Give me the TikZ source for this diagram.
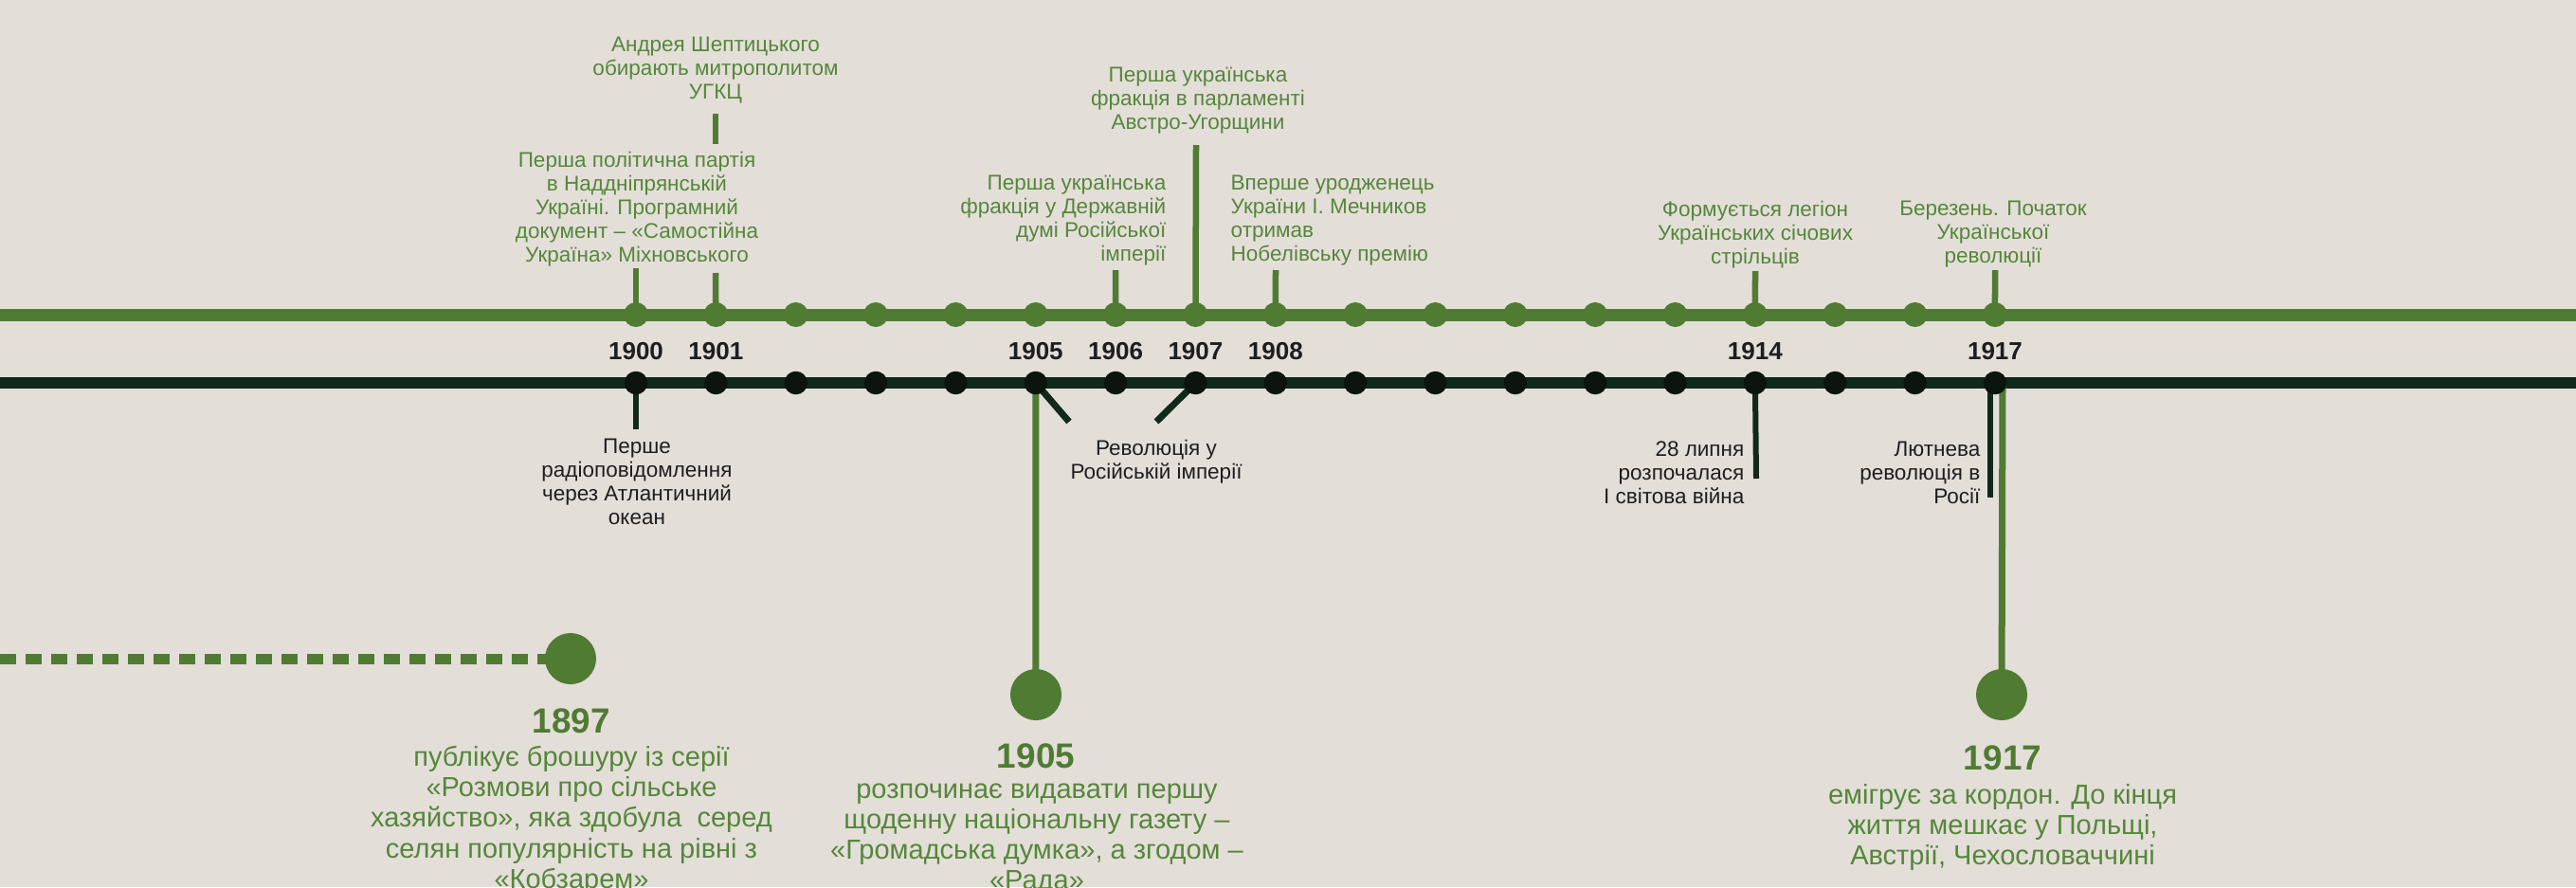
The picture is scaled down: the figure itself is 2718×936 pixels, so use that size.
\documentclass[tikz,border=0pt]{standalone}
\usepackage{fontspec}
\setmainfont{Liberation Sans}
\definecolor{bg}{HTML}{E4DED9}
\definecolor{grn}{HTML}{4F7B32}
\definecolor{grntxt}{HTML}{55873A}
\definecolor{dk}{HTML}{10291A}
\definecolor{dkdot}{HTML}{0B140D}
\definecolor{dktxt}{HTML}{1E1E1E}
\pgfdeclarelayer{back}
\pgfdeclarelayer{mid}
\pgfsetlayers{back,mid,main}
\begin{document}
\begin{tikzpicture}[x=0.01cm,y=-0.01cm,
  gdot/.style={circle,fill=grn,inner sep=0pt,minimum size=0.26cm},
  kdot/.style={circle,fill=dkdot,inner sep=0pt,minimum size=0.245cm},
  bigdot/.style={circle,fill=grn,inner sep=0pt,minimum size=0.54cm},
  gstem/.style={draw=grn,line width=0.065cm},
  kstem/.style={draw=dk,line width=0.06cm},
  lbl/.style={font=\fontsize{6.4}{7.11}\selectfont,inner sep=0pt,execute at begin node={\vphantom{Д}}},
  gtxt/.style={lbl,text=grntxt,align=center,anchor=north},
  ktxt/.style={lbl,text=dktxt,align=center,anchor=north},
  yr/.style={font=\bfseries\fontsize{7.4}{8}\selectfont,text=dktxt,inner sep=0pt},
  bigyr/.style={font=\bfseries\fontsize{10.5}{11}\selectfont,text=grn,inner sep=0pt,anchor=north},
  bigtxt/.style={font=\fontsize{8.25}{9.1}\selectfont,text=grntxt,inner sep=0pt,align=center,anchor=north,execute at begin node={\vphantom{Д}}},
]
\begin{pgfonlayer}{back}
\fill[bg] (0,0) rectangle (2718,936);
\end{pgfonlayer}
\useasboundingbox (0,0) rectangle (2718,936);

% axis ends
\coordinate (gL) at (0,332); \coordinate (gR) at (2718,332);
\coordinate (kL) at (0,404); \coordinate (kR) at (2718,404);

% dots
\foreach \i in {0,...,17}{
  \node[gdot] (g\i) at ({671+84.35*\i},332) {};
  \node[kdot] (k\i) at ({671+84.35*\i},404) {};
}

% big circles
\node[bigdot] (b1897) at (602,695) {};
\node[bigdot] (b1905) at (1093,733) {};
\node[bigdot] (b1917) at (2112,733) {};
\coordinate (dL) at (0,695);
\coordinate (k17g) at (2113,404);

% stem ends
\coordinate (s1900) at (671,283);
\coordinate (s1901) at (755,288);
\coordinate (sA1) at (755,120); \coordinate (sA2) at (755,152);
\coordinate (s1906) at (1177,285);
\coordinate (s1907) at (1262,153);
\coordinate (s1908) at (1346,285);
\coordinate (s1914) at (1852,286);
\coordinate (s1917) at (2105,285);
\coordinate (d1900) at (671,453);
\coordinate (d1905) at (1128,445);
\coordinate (d1907) at (1220,445);
\coordinate (d1914) at (1853,505);
\coordinate (d1917a) at (2100,410);
\coordinate (d1917) at (2100,525);

\begin{pgfonlayer}{mid}
\draw[grn,line width=0.13cm] (gL) -- (gR);
\draw[dk,line width=0.12cm] (kL) -- (kR);
\draw[gstem] (g0.center) -- (s1900);
\draw[gstem] (g1.center) -- (s1901);
\draw[gstem] (sA1) -- (sA2);
\draw[gstem] (g6.center) -- (s1906);
\draw[gstem] (g7.center) -- (s1907);
\draw[gstem] (g8.center) -- (s1908);
\draw[gstem] (g14.center) -- (s1914);
\draw[gstem] (g17.center) -- (s1917);
\draw[kstem] (k0.center) -- (d1900);
\draw[kstem,line width=0.07cm] (k5.center) -- (d1905);
\draw[kstem,line width=0.07cm] (k7.center) -- (d1907);
\draw[kstem] (k14.center) -- (d1914);
\draw[kstem] (d1917a) -- (d1917);
\draw[gstem,line width=0.07cm] (k5.center) -- (b1905.center);
\draw[gstem,line width=0.07cm] (k17g) -- (b1917.center);
\draw[grn,line width=0.11cm,dash pattern=on 0.17cm off 0.10cm] (dL) -- (b1897.center);
\end{pgfonlayer}

% axis years
\foreach \i/\y in {0/1900,1/1901,5/1905,6/1906,7/1907,8/1908,14/1914,17/1917}{
  \node[yr] (y\y) at ({671+84.35*\i},371) {\y};
}

% upper labels
\node[gtxt] (tA) at (755,38) {Андрея Шептицького\\обирають митрополитом\\УГКЦ};
\node[gtxt] (tB) at (672,159) {Перша політична партія\\в Наддніпрянській\\Україні. Програмний\\документ – «Самостійна\\Україна» Міхновського};
\node[gtxt,align=right,anchor=north east] (tC) at (1231,184) {Перша українська\\фракція у Державній\\думі Російської\\імперії};
\node[gtxt] (tD) at (1264,70) {Перша українська\\фракція в парламенті\\Австро-Угорщини};
\node[gtxt,align=left,anchor=north west] (tE) at (1298,184) {Вперше уродженець\\України І. Мечников\\отримав\\Нобелівську премію};
\node[gtxt] (tF) at (1852,211) {Формується легіон\\Українських січових\\стрільців};
\node[gtxt] (tG) at (2103,211) {Березень. Початок\\Української\\революції};

% lower labels
\node[ktxt] (tH) at (672,462) {Перше\\радіоповідомлення\\через Атлантичний\\океан};
\node[ktxt] (tI) at (1220,463) {Революція у\\Російській імперії};
\node[ktxt,align=right,anchor=north east] (tJ) at (1841,465) {28 липня\\розпочалася\\І світова війна};
\node[ktxt,align=right,anchor=north east] (tK) at (2090,465) {Лютнева\\революція в\\Росії};

% big events
\node[bigyr] (y1897b) at (603,747) {1897};
\node[bigtxt] (t1897) at (603,787) {публікує брошуру із серії\\«Розмови про сільське\\хазяйство», яка здобула\ \ серед\\селян популярність на рівні з\\«Кобзарем»};
\node[bigyr] (y1905b) at (1093,784) {1905};
\node[bigtxt] (t1905) at (1094,826) {розпочинає видавати першу\\щоденну національну газету –\\«Громадська думка», а згодом –\\«Рада»};
\node[bigyr] (y1917b) at (2113,786) {1917};
\node[bigtxt] (t1917) at (2113,827) {емігрує за кордон. До кінця\\життя мешкає у Польщі,\\Австрії, Чехословаччині};
\end{tikzpicture}
\end{document}
